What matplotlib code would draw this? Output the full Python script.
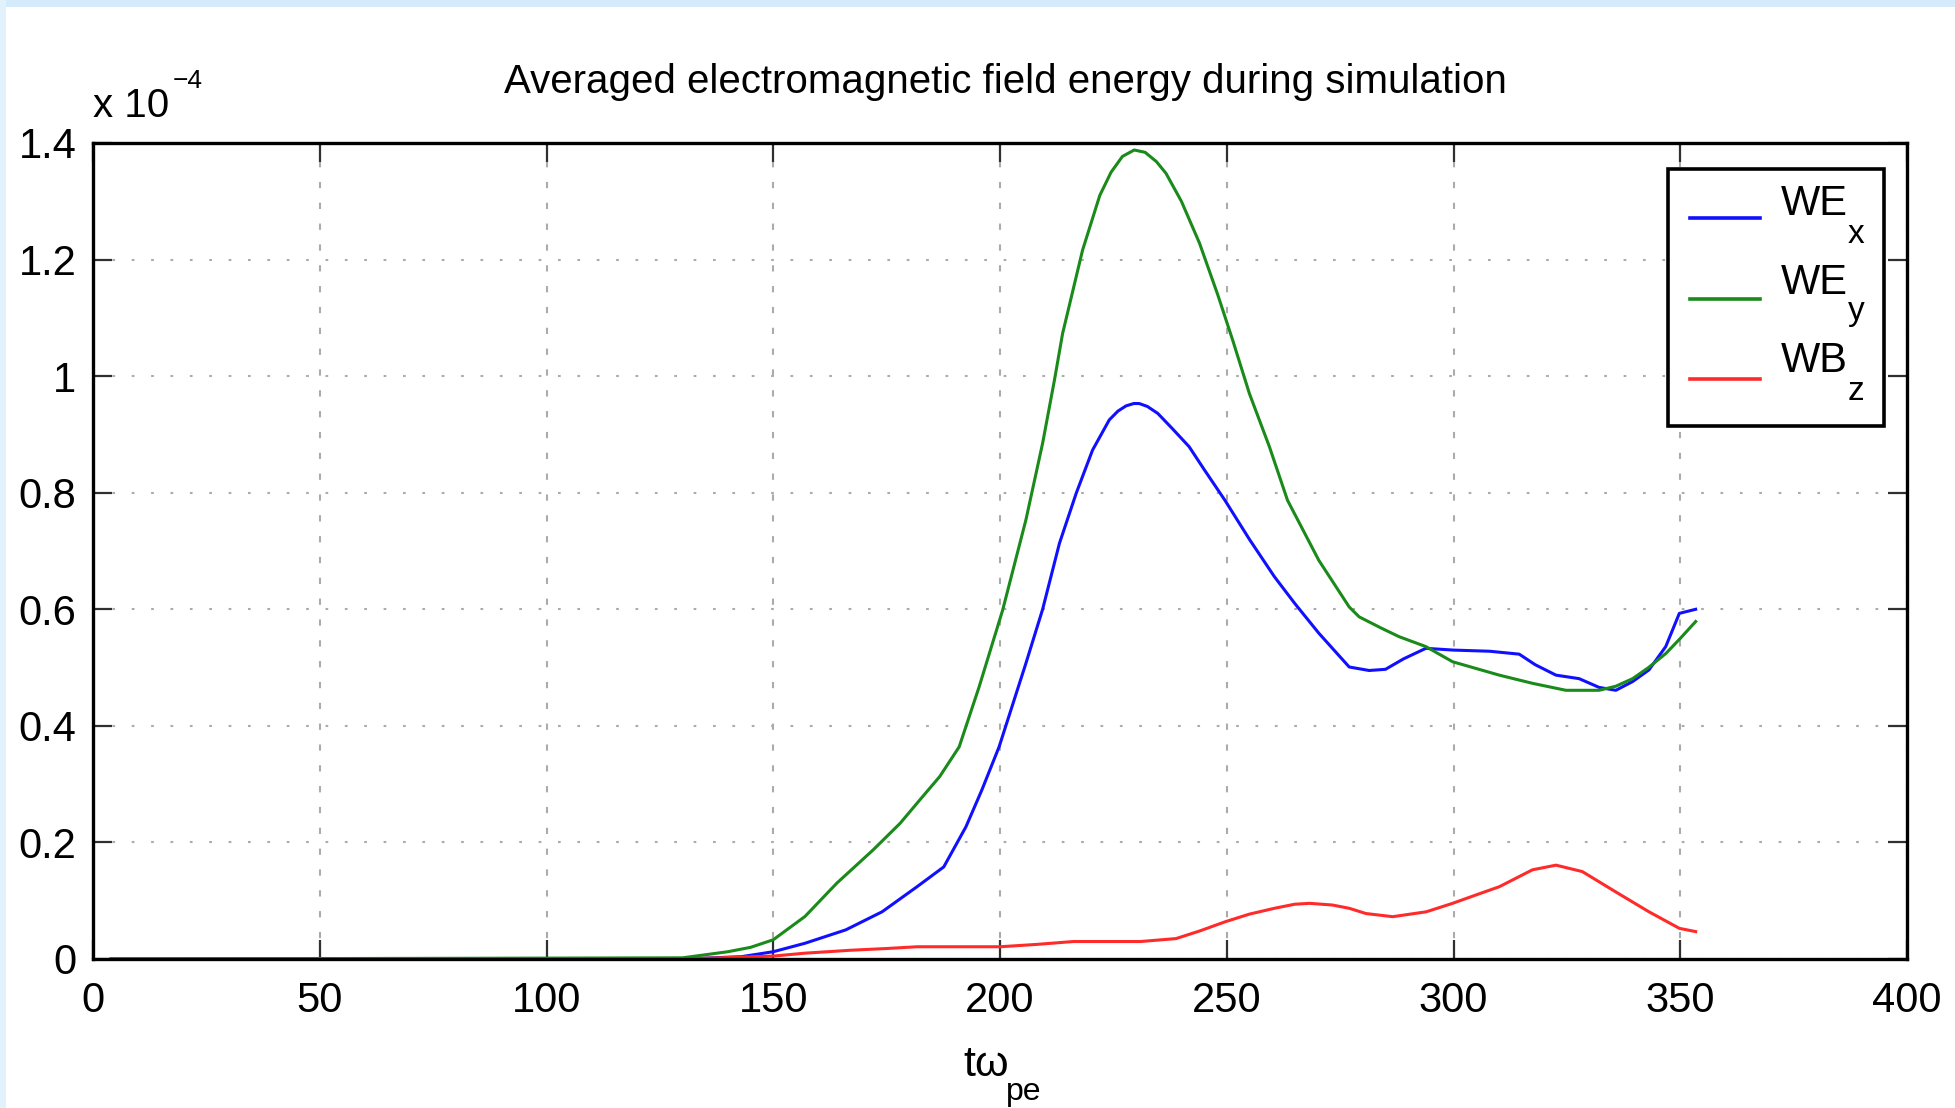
import matplotlib
matplotlib.use("Agg")
import matplotlib.pyplot as plt
from matplotlib.patches import Rectangle
from matplotlib.lines import Line2D

# ---------------- data (values in units of 1e-4) ----------------
x_wex = [4, 130, 143, 150, 157, 166, 174, 181.7, 187.6, 192.5, 196, 199.8, 205.7, 209.4,
         213.1, 216.8, 220.4, 224.1, 226, 227.8, 229.5, 230.7, 232.5, 234.8, 238, 241.7,
         245, 249.6, 255, 260.5, 265, 270.3, 277, 281.4, 285, 289, 293.9, 300, 308, 314.5,
         318, 322.6, 327.7, 332.1, 335.8, 339.5, 343.1, 346.8, 349.8, 353.4]
y_wex = [0, 0, 0.004, 0.0125, 0.027, 0.050, 0.081, 0.124, 0.158, 0.227, 0.29, 0.364,
         0.507, 0.60, 0.713, 0.799, 0.873, 0.925, 0.940, 0.949, 0.953, 0.953, 0.948, 0.936,
         0.91, 0.879, 0.84, 0.787, 0.72, 0.656, 0.61, 0.559, 0.501, 0.495, 0.497, 0.515,
         0.533, 0.530, 0.528, 0.523, 0.505, 0.487, 0.481, 0.466, 0.461, 0.476, 0.496, 0.536,
         0.593, 0.600]

x_wey = [4, 130, 140, 145, 150, 157, 164, 172, 178, 182, 186.7, 191, 195.4, 200.6, 205.7,
         209.4, 212, 213.8, 218.2, 222, 224.5, 227, 229.6, 232, 234.5, 236.6, 240, 244,
         248, 251.3, 255, 259.4, 263.4, 270.3, 277, 279.2, 284, 288, 293.9, 299.8, 310.1,
         317.4, 324.8, 332.1, 335.8, 339.5, 343, 346.8, 350, 353.4]
y_wey = [0, 0.002, 0.0125, 0.020, 0.033, 0.073, 0.130, 0.187, 0.233, 0.27, 0.313, 0.364,
         0.467, 0.599, 0.753, 0.885, 0.993, 1.073, 1.216, 1.31, 1.35, 1.377, 1.388, 1.384,
         1.368, 1.348, 1.30, 1.228, 1.14, 1.062, 0.97, 0.879, 0.787, 0.684, 0.604, 0.587,
         0.568, 0.553, 0.536, 0.510, 0.487, 0.473, 0.461, 0.461, 0.468, 0.481, 0.50, 0.524,
         0.55, 0.579]

x_wbz = [4, 130, 150, 157, 167, 175, 181.7, 190, 200, 208, 216.2, 224, 231, 238.8, 244,
         249.7, 255, 260.5, 265, 268.3, 273.3, 277, 280.7, 286.6, 294, 299.8, 305, 310.1,
         317.4, 322.6, 328.4, 335.8, 343.1, 349.8, 353.4]
y_wbz = [0, 0, 0.005, 0.01, 0.015, 0.018, 0.021, 0.021, 0.021, 0.025, 0.030, 0.030, 0.030,
         0.035, 0.048, 0.064, 0.077, 0.087, 0.094, 0.0955, 0.0926, 0.087, 0.078, 0.0726,
         0.081, 0.0955, 0.11, 0.124, 0.153, 0.161, 0.150, 0.115, 0.081, 0.0526, 0.047]

x_ticks = [0, 50, 100, 150, 200, 250, 300, 350, 400]
y_ticks = [0, 0.2, 0.4, 0.6, 0.8, 1.0, 1.2, 1.4]
y_tick_labels = ["0", "0.2", "0.4", "0.6", "0.8", "1", "1.2", "1.4"]
series_main = ["WE", "WE", "WB"]
series_sub = ["x", "y", "z"]
series_colors = ['#1010ff', '#1a8a1a', '#ff2a2a']
title_text = "Averaged electromagnetic field energy during simulation"

plt.rcParams['font.family'] = ['Liberation Sans', 'DejaVu Sans']

W, H = 1955, 1108
fig = plt.figure(figsize=(W / 100, H / 100), dpi=100)
fig.patch.set_facecolor('white')


def fx(px):
    return px / W


def fy(py):
    return 1 - py / H


# light blue frame strips
fig.patches.append(Rectangle((0, fy(7)), 1, 7 / H, transform=fig.transFigure,
                             facecolor='#d3ebfb', edgecolor='none', zorder=0))
fig.patches.append(Rectangle((0, 0), 6 / W, 1, transform=fig.transFigure,
                             facecolor='#e2f2fd', edgecolor='none', zorder=0))

L, R, T, B = 93, 1907, 143, 959
ax = fig.add_axes([fx(L), fy(B), (R - L) / W, (B - T) / H])

for xs, ys, c in zip([x_wex, x_wey, x_wbz], [y_wex, y_wey, y_wbz], series_colors):
    ax.plot(xs, ys, color=c, lw=2.2, solid_joinstyle='round')

ax.set_xlim(0, 400)
ax.set_ylim(0, 1.4)
ax.set_xticks(x_ticks)
ax.set_xticklabels([str(v) for v in x_ticks])
ax.set_yticks(y_ticks)
ax.set_yticklabels(y_tick_labels)

ax.tick_params(axis='both', direction='in', length=14, width=1.6, colors='#303030',
               labelcolor='black', labelsize=30, top=True, right=True, pad=12)
ax.tick_params(axis='x', pad=16)

for s in ax.spines.values():
    s.set_linewidth(2.4)
    s.set_color('black')

ax.xaxis.grid(True, color='#ababab', lw=1.5, linestyle=(0, (3, 7)))
ax.yaxis.grid(True, color='#ababab', lw=1.5, linestyle=(0, (1.3, 8)))
ax.set_axisbelow(True)

# legend (built by hand to match the layout of the original)
lx0, lx1, ly0, ly1 = 1668, 1884, 169, 426
fig.patches.append(Rectangle((fx(lx0), fy(ly1)), (lx1 - lx0) / W, (ly1 - ly0) / H,
                             transform=fig.transFigure, facecolor='white',
                             edgecolor='black', lw=2.6, zorder=5))
line_y = [218, 299, 379]
main_base = [215, 294, 372]
sub_base = [243, 320, 400]
for i in range(3):
    fig.add_artist(Line2D([fx(1690), fx(1760)], [fy(line_y[i]), fy(line_y[i])],
                          transform=fig.transFigure, color=series_colors[i], lw=2.6,
                          zorder=6))
    fig.text(fx(1781), fy(main_base[i]), series_main[i], ha='left', va='baseline',
             fontsize=30, zorder=6)
    fig.text(fx(1848), fy(sub_base[i]), series_sub[i], ha='left', va='baseline',
             fontsize=24, zorder=6)

# title
fig.text(fx(1005), fy(82), title_text, ha='center', va='center', fontsize=29)

# exponent label
fig.text(fx(93), fy(117), "x 10", ha='left', va='baseline', fontsize=29)
fig.text(fx(173), fy(88), "\u22124", ha='left', va='baseline', fontsize=19)

# x label
fig.text(fx(963), fy(1076), "t\u03c9", ha='left', va='baseline', fontsize=31)
fig.text(fx(1006), fy(1100), "pe", ha='left', va='baseline', fontsize=23)

fig.savefig("out.png", dpi=100, facecolor=fig.get_facecolor())
